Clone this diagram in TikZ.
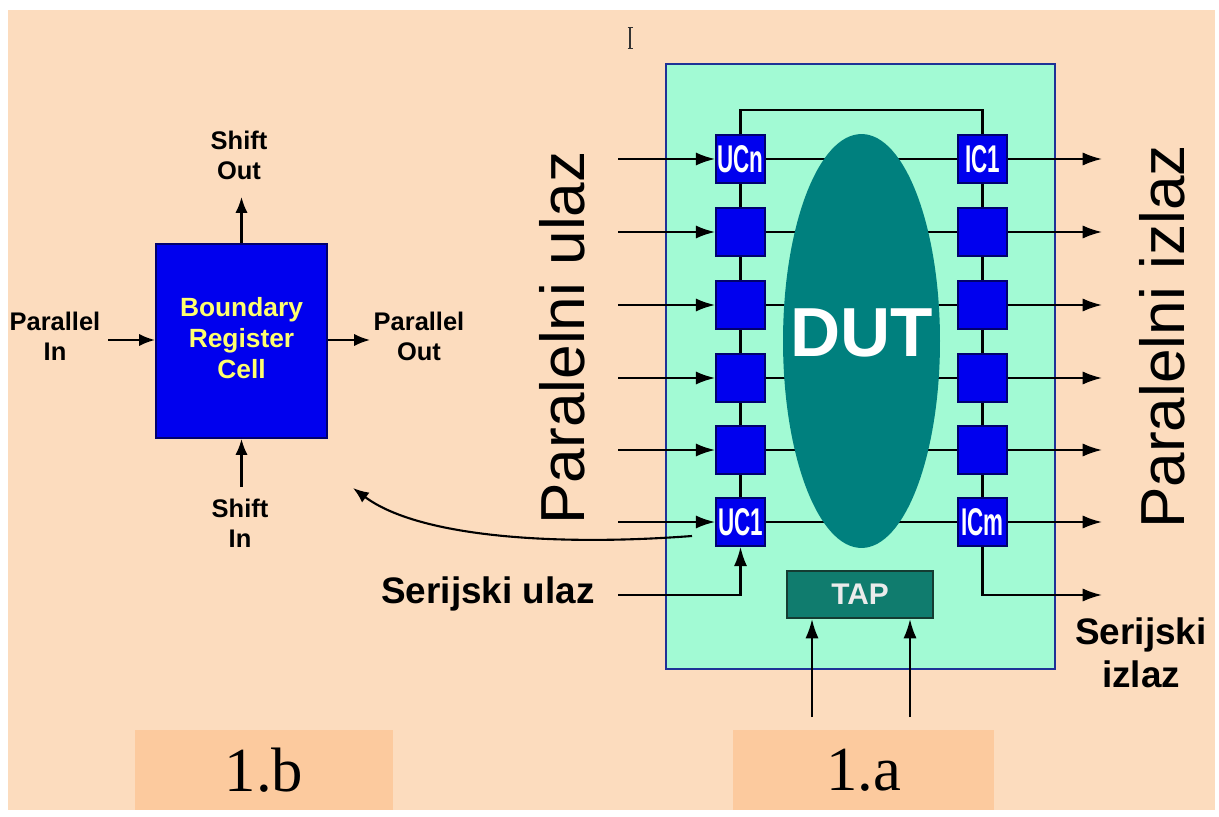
\documentclass[tikz,border=0pt]{standalone}
\usepackage{fontspec}
\setmainfont{Liberation Sans}
\newfontfamily\serifnum{Liberation Serif}
\newfontfamily\narrowf[FakeStretch=0.58]{Liberation Sans}
\usetikzlibrary{arrows.meta,shapes.geometric}
\definecolor{peach}{RGB}{252,220,190}
\definecolor{tagbox}{RGB}{252,202,158}
\definecolor{mint}{RGB}{162,250,212}
\definecolor{chipedge}{RGB}{30,50,150}
\definecolor{cellblue}{RGB}{0,0,238}
\definecolor{celledge}{RGB}{0,0,110}
\definecolor{dutteal}{RGB}{0,128,126}
\definecolor{tapteal}{RGB}{16,124,110}
\definecolor{tapedge}{RGB}{20,60,50}
\definecolor{ylw}{RGB}{255,255,110}
\pgfdeclarelayer{bg}
\pgfdeclarelayer{lines}
\pgfsetlayers{bg,lines,main}
\tikzset{
  wire/.style={line width=1.2pt, black},
  arr/.style={wire, -{Latex[length=11pt,width=7.5pt]}},
  arrs/.style={wire, -{Latex[length=9pt,width=7pt]}},
  cell/.style={draw=celledge, line width=1pt, fill=cellblue, minimum width=0.98cm, minimum height=0.96cm, inner sep=0pt},
  celltxt/.style={inner sep=0pt, text=white, font=\narrowf\bfseries\fontsize{22pt}{22pt}\selectfont},
  lbl/.style={inner sep=0pt, align=center, font=\bfseries\fontsize{14.5pt}{17pt}\selectfont},
  big/.style={inner sep=0pt, font=\bfseries\fontsize{21pt}{24.4pt}\selectfont, align=center},
  vert/.style={inner sep=0pt, rotate=90, font=\fontsize{35.4pt}{36pt}\selectfont},
  tag/.style={fill=tagbox, minimum height=1.6cm, inner sep=0pt, font=\serifnum\fontsize{35.7pt}{36pt}\selectfont}
}
\begin{document}
\begin{tikzpicture}[x=0.02cm,y=-0.02cm]
\useasboundingbox (0,0) rectangle (1219,817);
\begin{pgfonlayer}{bg}
\fill[white] (0,0) rectangle (1219,817);
\fill[peach] (8,10) rectangle (1215,810);
\end{pgfonlayer}

% cursor artifact
\draw[line width=0.7pt, black!80] (630,28) -- (630,48) (627.5,27.5) -- (632.5,27.5) (627.5,48.5) -- (632.5,48.5);

% caption tags
\node[tag, minimum width=5.16cm] (tagb) at (264,770) {1.b};
\node[tag, minimum width=5.22cm] (taga) at (863.5,770) {1.a};

% ===== 1.b : boundary register cell =====
\node[draw=celledge, line width=1.2pt, fill=cellblue, minimum width=3.42cm, minimum height=3.88cm] (brc) at (241.5,341) {};
\node[lbl, text=ylw, font=\bfseries\fontsize{15pt}{17.6pt}\selectfont] (brctxt) at (241.5,338) {Boundary\\Register\\Cell};
\coordinate (so) at (241.5,197);
\coordinate (si) at (241.5,487);
\coordinate (pi) at (108,340);
\coordinate (po) at (370,340);
\draw[arrs] (brc.north) -- (so);
\draw[arrs] (si) -- (brc.south);
\draw[arrs] (pi) -- (pi -| brc.west);
\draw[arrs] (po -| brc.east) -- (po);
\node[lbl] (lso) at (239,155) {Shift\\Out};
\node[lbl] (lsi) at (240,523) {Shift\\In};
\node[lbl] (lpi) at (55,336) {Parallel\\In};
\node[lbl] (lpo) at (419,336) {Parallel\\Out};

% ===== 1.a : boundary scan chip =====
\begin{pgfonlayer}{bg}
\node[draw=chipedge, line width=1.5pt, fill=mint, minimum width=7.78cm, minimum height=12.1cm] (chip) at (860.5,366.5) {};
\end{pgfonlayer}
\node[ellipse, fill=dutteal, minimum width=3.14cm, minimum height=8.28cm, inner sep=0pt] (dut) at (861.5,341) {};
\node[inner sep=0pt, text=white, font=\bfseries\fontsize{39.5pt}{40pt}\selectfont] (duttxt) at (862,333) {DUT};

\foreach \i/\y in {1/159,2/232,3/305,4/378,5/450,6/522}{
  \node[cell] (L\i) at (740.5,\y) {};
  \node[cell] (R\i) at (982.5,\y) {};
  \coordinate (in\i) at (618,\y);
  \coordinate (out\i) at (1102,\y);
}
\node[celltxt] (tUCn) at (L1) {UCn};
\node[celltxt] (tIC1) at (R1) {IC1};
\node[celltxt] (tUC1) at (L6) {UC1};
\node[celltxt] (tICm) at (R6) {ICm};

\begin{pgfonlayer}{lines}
\draw[wire] (L1.north) -- ++(0,-24) -| (R1.north);
\draw[wire] (L1) -- (L6);
\draw[wire] (R1) -- (R6);
\foreach \i in {1,...,6}{
  \draw[wire] (L\i.east) -- (R\i.west);
}
\end{pgfonlayer}
\foreach \i in {1,...,6}{
  \draw[arr] (in\i) -- (L\i.west);
  \draw[arr] (R\i.east) -- (out\i);
}

\node[draw=tapedge, line width=1.2pt, fill=tapteal, minimum width=2.92cm, minimum height=0.94cm, text=white!92!black, font=\bfseries\fontsize{17pt}{17pt}\selectfont] (tap) at (860,594.5) {TAP};
\coordinate (t1) at (812,717);
\coordinate (t2) at (910,717);
\draw[arr] (t1) -- (t1 |- tap.south);
\draw[arr] (t2) -- (t2 |- tap.south);

\coordinate (sin) at (618,595);
\coordinate (sout) at (1102,595);
\draw[arr] (sin) -| (L6.south);
\draw[arr] (R6.south) |- (sout);

\coordinate (cstart) at (692,536);
\coordinate (cend) at (353,488);
\draw[arrs] (cstart) .. controls (560,546) and (420,538) .. (cend);

\node[big] (lsin) at (488,594) {Serijski ulaz};
\node[big] (lsout) at (1141,653) {Serijski\\izlaz};
\node[vert] (lpu) at (562,338) {Paralelni ulaz};
\node[vert] (lpz) at (1162,337) {Paralelni izlaz};
\end{tikzpicture}
\end{document}
